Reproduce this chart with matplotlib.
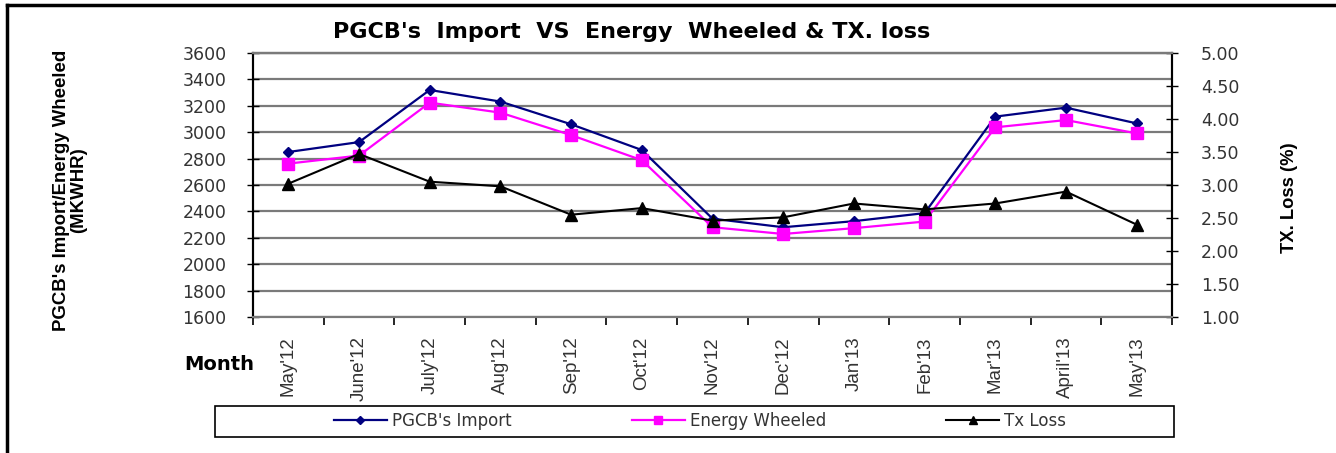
import numpy as np
import matplotlib.pyplot as plt
from matplotlib.lines import Line2D
from matplotlib.patches import Rectangle

plt.rcParams['font.family'] = ['DejaVu Sans']

# Data
months = ["May'12", "June'12", "July'12", "Aug'12", "Sep'12", "Oct'12", "Nov'12",
          "Dec'12", "Jan'13", "Feb'13", "Mar'13", "April'13", "May'13"]
pgcb_import = [2850, 2925, 3320, 3232, 3060, 2865, 2345, 2280, 2326, 2387, 3118, 3186, 3067]
energy_wheeled = [2762, 2823, 3224, 3148, 2978, 2788, 2280, 2229, 2273, 2323, 3037, 3092, 2991]
tx_loss = [3.02, 3.47, 3.05, 2.98, 2.55, 2.65, 2.46, 2.51, 2.72, 2.63, 2.72, 2.90, 2.40]

left_ticks = np.arange(1600, 3601, 200)
right_ticks = np.arange(1.0, 5.01, 0.5)

W, H = 1336, 453
fig = plt.figure(figsize=(W / 100, H / 100), dpi=100)

# axes rectangle (pixel based)
x0, x1, y0, y1 = 253, 1172, 53, 317
ax = fig.add_axes([x0 / W, 1 - y1 / H, (x1 - x0) / W, (y1 - y0) / H])
ax2 = ax.twinx()

x = np.arange(len(months))
ax.plot(x, pgcb_import, color='#000080', lw=1.6, marker='D', ms=5.5, zorder=3)
ax.plot(x, energy_wheeled, color='#ff00ff', lw=1.6, marker='s', ms=8.5, zorder=3)
ax2.plot(x, tx_loss, color='black', lw=1.5, marker='^', ms=9, zorder=3)

ax.set_xlim(-0.5, len(months) - 0.5)
ax.set_ylim(1600, 3600)
ax2.set_ylim(1.0, 5.0)
ax.set_yticks(left_ticks)
ax2.set_yticks(right_ticks)
ax2.set_yticklabels(['%.2f' % v for v in right_ticks])

# horizontal gridlines
for v in left_ticks:
    ax.axhline(v, color='#7a7a7a', lw=1.6, zorder=1)

# x ticks between categories, labels at categories
ax.set_xticks(np.arange(-0.5, len(months), 1.0))
ax.set_xticklabels([])
ax.set_xticks(x, minor=True)
ax.set_xticklabels(months, minor=True, rotation=90, fontsize=13.5, color='#333333',
                   family='Liberation Sans', va='top')
ax.tick_params(axis='x', which='minor', length=0, pad=14)
ax.tick_params(axis='x', which='major', length=6, width=1.2, direction='out')

ax.tick_params(axis='y', direction='inout', length=8, width=1.0, labelsize=12.5,
               labelcolor='#333333', pad=15)
ax2.tick_params(axis='y', direction='inout', length=8, width=1.0, labelsize=12.5,
                labelcolor='#333333', pad=17)

for a in (ax, ax2):
    a.spines['top'].set_color('#7a7a7a')
    a.spines['top'].set_linewidth(1.6)
    a.spines['left'].set_linewidth(1.5)
    a.spines['right'].set_linewidth(1.5)
    a.spines['bottom'].set_linewidth(1.5)
    a.spines['bottom'].set_color('#7a7a7a')

# labels and title
fig.text(632 / W, 1 - 32 / H, "PGCB's  Import  VS  Energy  Wheeled & TX. loss",
         ha='center', va='center', fontsize=16, fontweight='bold')
fig.text(70 / W, 1 - 190 / H, "PGCB's Import/Energy Wheeled\n(MKWHR)", rotation=90,
         ha='center', va='center', fontsize=13.4, fontweight='bold', linespacing=1.0,
         family='Liberation Sans')
fig.text(1290 / W, 1 - 198 / H, "TX. Loss (%)", rotation=90,
         ha='center', va='center', fontsize=13.2, fontweight='bold',
         family='Liberation Sans')
fig.text(219 / W, 1 - 365 / H, "Month", ha='center', va='center',
         fontsize=14, fontweight='bold')

# legend box
lx0, lx1, ly0, ly1 = 215, 1174, 406, 437
fig.add_artist(Rectangle((lx0 / W, 1 - ly1 / H), (lx1 - lx0) / W, (ly1 - ly0) / H,
                         transform=fig.transFigure, fill=False, edgecolor='black', lw=1.2))
handles = [
    Line2D([], [], color='#000080', lw=1.6, marker='D', ms=4),
    Line2D([], [], color='#ff00ff', lw=1.6, marker='s', ms=6),
    Line2D([], [], color='black', lw=1.5, marker='^', ms=6),
]
labels = ["PGCB's Import", "Energy Wheeled", "Tx Loss"]
leg = fig.legend(handles, labels, loc='center', ncol=3,
                 bbox_to_anchor=(700 / W, 1 - 421 / H),
                 fontsize=12, frameon=False, handlelength=3.2, handletextpad=0.3,
                 columnspacing=7.2, borderaxespad=0, borderpad=0)
for t in leg.get_texts():
    t.set_color('#333333')

# outer frame: left and top edges
fig.add_artist(Line2D([7 / W, 7 / W], [0, 1 - 5 / H], color='black', lw=2.5,
                      transform=fig.transFigure))
fig.add_artist(Line2D([7 / W, 1], [1 - 5 / H, 1 - 5 / H], color='black', lw=2.5,
                      transform=fig.transFigure))

fig.savefig('out.png', dpi=100)
